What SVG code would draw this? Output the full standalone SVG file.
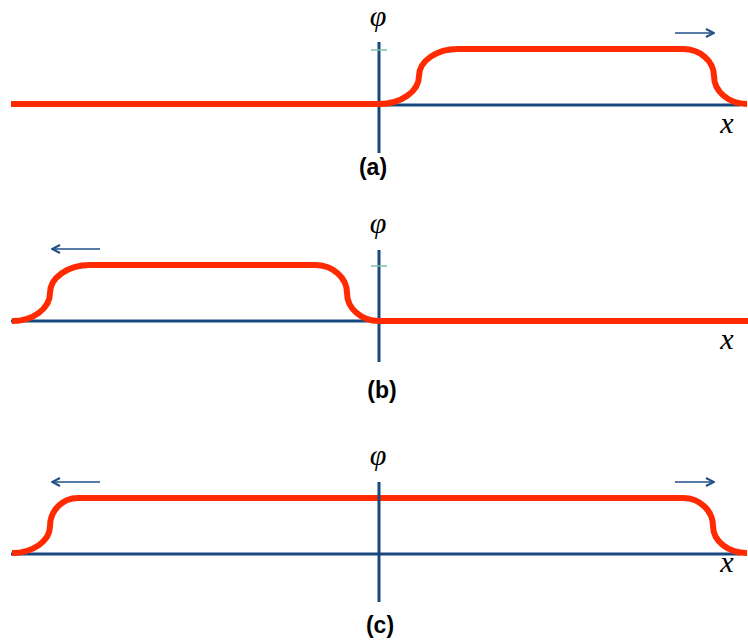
<svg xmlns="http://www.w3.org/2000/svg" width="748" height="640" viewBox="0 0 748 640">
<defs>
<style>
.axis{stroke:#17497f;stroke-width:3;fill:none}
.tick{stroke:#7cc3a0;stroke-width:1.5;fill:none}
.curve{stroke:#ff2a00;stroke-width:6;fill:none;stroke-linejoin:round}
.arr{stroke:#1f4f86;stroke-width:1.6;fill:none}
.var{font-family:"Liberation Serif","DejaVu Serif",serif;font-style:italic;fill:#000;text-anchor:middle}
.phi{font-size:30px}
.ex{font-size:30px}
.lab{font-family:"Liberation Sans",Arial,sans-serif;font-weight:bold;font-size:23px;fill:#000;text-anchor:middle}
</style>
<marker id="head" viewBox="0 0 10 10" refX="9" refY="5" markerWidth="10" markerHeight="10" markerUnits="userSpaceOnUse" orient="auto">
<path d="M1,1 L9,5 L1,9" stroke="#1f4f86" stroke-width="2" fill="none"/>
</marker>
</defs>
<rect width="748" height="640" fill="#fff"/>

<g id="panel-a">
<line class="axis" x1="379" y1="105" x2="740" y2="105"/>
<line class="axis" x1="379" y1="42" x2="379" y2="153"/>
<line class="tick" x1="371" y1="50" x2="387" y2="50"/>
<path class="curve" d="M11,104 L379,104 A40,28 0 0 0 419,76 A39,27 0 0 1 458,49 L683,49 A31,27 0 0 1 714,76 A33,28 0 0 0 747,104"/>
<line class="arr" x1="675" y1="33" x2="714" y2="33" marker-end="url(#head)"/>
<text class="var phi" x="378" y="26">φ</text>
<text class="var ex" x="727" y="133">x</text>
<text class="lab" x="373" y="175">(a)</text>
</g>

<g id="panel-b">
<line class="axis" x1="11" y1="321" x2="379" y2="321"/>
<line class="axis" x1="379" y1="250" x2="379" y2="362"/>
<line class="tick" x1="371" y1="266" x2="387" y2="266"/>
<path class="curve" d="M12,321 A38,28 0 0 0 50,293 A40,28 0 0 1 90,265 L315,265 A32,28 0 0 1 347,293 A32,28 0 0 0 379,321 L748,321"/>
<line class="arr" x1="100" y1="249" x2="52" y2="249" marker-end="url(#head)"/>
<text class="var phi" x="378" y="233">φ</text>
<text class="var ex" x="727" y="349">x</text>
<text class="lab" x="382" y="398">(b)</text>
</g>

<g id="panel-c">
<line class="axis" x1="11" y1="554" x2="740" y2="554"/>
<path class="curve" d="M12,553 A38,27 0 0 0 50,526 A28,28 0 0 1 78,498 L683,498 A30,28 0 0 1 713,526 A34,27 0 0 0 747,553"/>
<line class="axis" x1="379" y1="482" x2="379" y2="602"/>
<line class="arr" x1="100" y1="482" x2="52" y2="482" marker-end="url(#head)"/>
<line class="arr" x1="675" y1="482" x2="714" y2="482" marker-end="url(#head)"/>
<text class="var phi" x="378" y="465">φ</text>
<text class="var ex" x="727" y="572">x</text>
<text class="lab" x="380" y="633">(c)</text>
</g>
</svg>
